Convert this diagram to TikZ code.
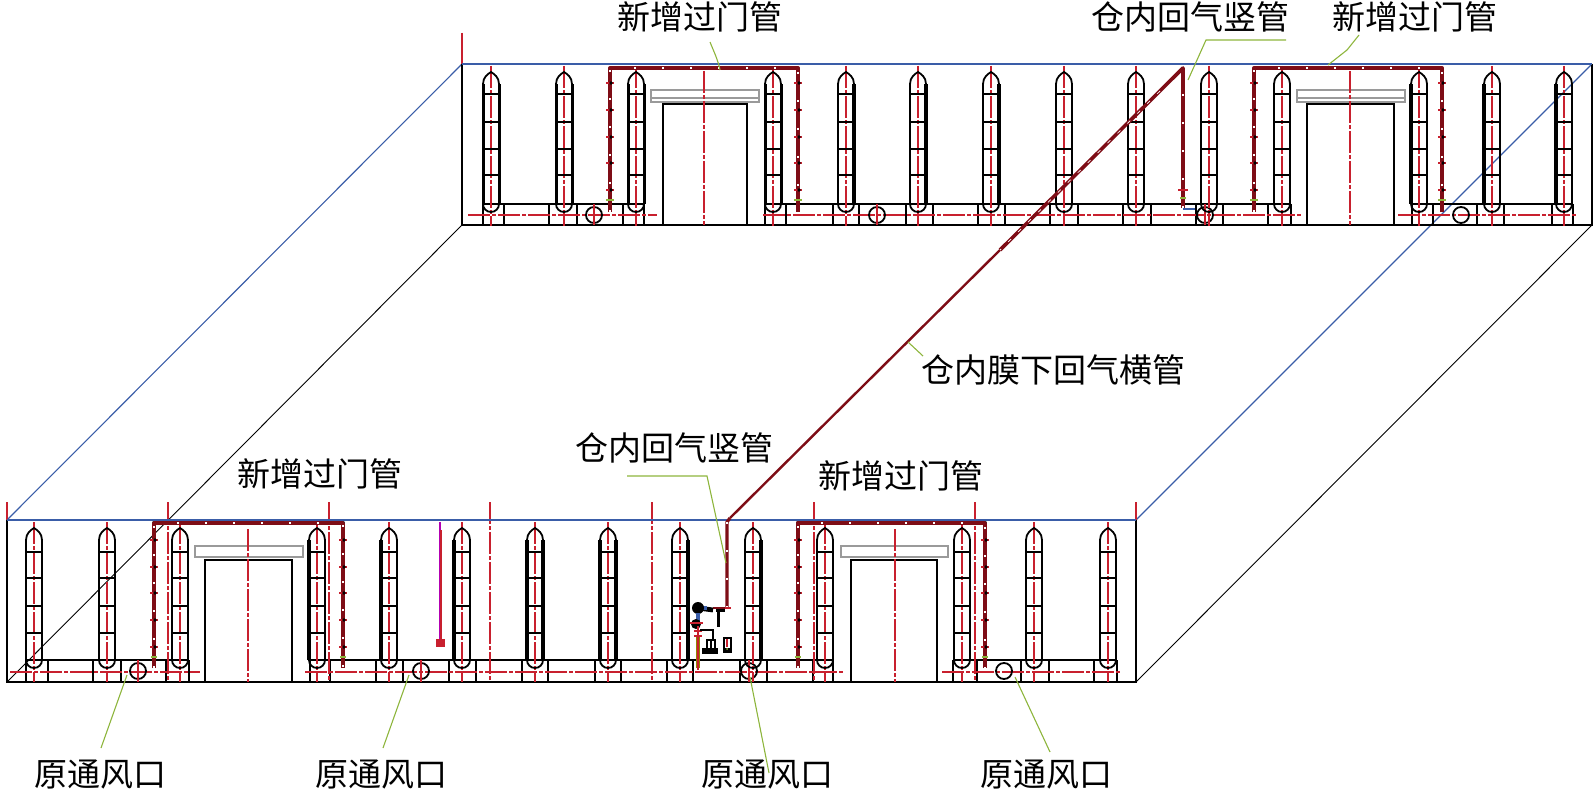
\documentclass[tikz,border=0pt]{standalone}
\usepackage{fontspec}
\newfontfamily\cjkf{Noto Sans CJK SC}
\definecolor{cl}{HTML}{C8202E}
\definecolor{pp}{HTML}{7E0D16}
\definecolor{gl}{HTML}{8DB53C}
\definecolor{bl}{HTML}{3A5DA8}
\definecolor{gy}{HTML}{9A9A9A}
\tikzset{
  wall/.style={black,line width=0.9pt},
  thin wall/.style={black,line width=0.45pt},
  sky/.style={bl,line width=0.7pt},
  axis/.style={cl,line width=0.75pt,dash pattern=on 11pt off 1pt on 2pt off 1pt},
  stub/.style={cl,line width=0.75pt},
  leader/.style={gl,line width=0.55pt},
  lintel/.style={gy,line width=1pt},
  pipeedge/.style={black!85,line width=2.4pt,line join=round},
  pipecore/.style={pp,line width=2pt,line join=round},
  pipedots/.style={white,line width=0.6pt,dash pattern=on 1pt off 13pt},
  lab/.style={font=\cjkf\fontsize{16.5}{20}\selectfont,inner sep=0pt,anchor=center,black}
}
% x, ytop, yband, ybottom of pill-axis, rung y list, left width, right width
\newcommand{\rpill}[7]{%
  \draw[axis] (#1,#2-6) -- (#1,#3+22);
  \draw[wall] (#1-8,#3) arc[start angle=180,end angle=0,radius=8];
  \draw[black,line width=#6] (#1-8,#3) -- (#1-8,#2+12);
  \draw[black,line width=#7] (#1+8,#3) -- (#1+8,#2+12);
  \draw[wall] (#1-8,#2+12) .. controls (#1-8,#2+5) and (#1-3,#2+2) .. (#1,#2)
     .. controls (#1+3,#2+2) and (#1+8,#2+5) .. (#1+8,#2+12);
  \foreach \ry in {#5} {\draw[wall] (#1-8,\ry) -- (#1+8,\ry);}
}
\newcommand{\ticks}[2]{%
  \foreach \ty in {#2} {
    \draw[cl,line width=0.7pt] (#1-4,\ty) -- (#1+4,\ty);
    \fill[black] (#1+1,\ty) circle[radius=1.8];
  }
}
\begin{document}
\begin{tikzpicture}[x=0.5pt,y=-0.5pt]
\useasboundingbox (0,0) rectangle (1595,791);
% ---- perspective edges
\draw[sky,line width=0.55pt] (7,520) -- (462,64);
\draw[sky,line width=0.55pt] (1136,520) -- (1592,64);
\draw[thin wall] (7,682) -- (462,225);
\draw[thin wall] (1136,682) -- (1592,225);
% ---- back wall
\draw[wall] (462,64) -- (462,225) -- (1592,225) -- (1592,64);
\foreach \a/\b in {483/644,765/1291,1412/1573}
  \draw[wall] (\a,204) -- (\b,204);
\foreach \a in {483,504,549,577,623,644,765,786,833,859,906,933,978,1005,1050,1078,1123,1151,1196,1223,1268,1291,1412,1433,1477,1504,1552,1573}
  \draw[wall] (\a,204) -- (\a,225);
\foreach \a/\b in {468/657,763/1302,1398/1578}
  \draw[axis] (\a,215) -- (\b,215);
\foreach \c in {594,877,1205,1461}
  {\draw[wall] (\c,215) circle[radius=8];}
\foreach \c in {594,877,1205}
  {\draw[stub] (\c,204) -- (\c,225);}
\foreach \x/\lw/\rw in {491/1.5pt/1.5pt,564/1.5pt/1.5pt,636/1.5pt/1.5pt,773/1.5pt/1.5pt,846/0.9pt/1.6pt,918/0.9pt/1.6pt,991/0.9pt/1.6pt,1064/0.9pt/0.9pt,1136/0.9pt/0.9pt,1209/0.9pt/0.9pt,1282/0.9pt/0.9pt,1419/1.6pt/0.9pt,1492/1.6pt/0.9pt,1564/1.6pt/0.9pt}
  \rpill{\x}{72}{204}{225}{94,122,149,175}{\lw}{\rw};
% back doors
\foreach \dl/\dr/\ll/\lr/\dc in {663/747/651/759/704,1307/1394/1297/1405/1350} {
  \draw[wall] (\dl,225) -- (\dl,104) -- (\dr,104) -- (\dr,225);
  \draw[lintel] (\ll,90) rectangle (\lr,102);
  \draw[lintel,line width=0.6pt] (\ll,98) -- (\lr,98);
  \draw[axis] (\dc,71) -- (\dc,225);
}
\draw[stub] (462,33) -- (462,64);
\draw[axis] (462,33) -- (462,64);
% ---- front wall
\draw[wall] (7,520) -- (7,682) -- (1136,682) -- (1136,520);
\foreach \a/\b in {26/189,310/833,953/1117}
  \draw[wall] (\a,660) -- (\b,660);
\foreach \a in {26,48,93,121,166,189,310,330,376,403,449,476,522,548,595,621,667,693,740,767,813,833,953,977,1021,1049,1094,1117}
  \draw[wall] (\a,660) -- (\a,682);
\foreach \a/\b in {10/200,305/845,942/1120}
  \draw[axis] (\a,672) -- (\b,672);
\foreach \c in {138,421,749,1004}
  {\draw[wall] (\c,671) circle[radius=8];}
\foreach \c in {138,421,749}
  {\draw[stub] (\c,660) -- (\c,682);}
\foreach \x/\lw/\rw in {34/0.9pt/0.9pt,107/0.9pt/0.9pt,180/0.9pt/0.9pt,317/1.6pt/0.9pt,389/1.6pt/0.9pt,462/1.6pt/0.9pt,535/1.6pt/1.6pt,608/1.6pt/1.6pt,680/0.9pt/1.6pt,753/0.9pt/1.6pt,825/0.9pt/0.9pt,962/0.9pt/0.9pt,1034/0.9pt/0.9pt,1108/0.9pt/0.9pt}
  \rpill{\x}{528}{660}{682}{552,578,606,633}{\lw}{\rw};
% front doors
\foreach \dl/\dr/\ll/\lr/\dc in {205/292/195/303/248,851/937/841/948/895} {
  \draw[wall] (\dl,682) -- (\dl,560) -- (\dr,560) -- (\dr,682);
  \draw[lintel] (\ll,546) rectangle (\lr,557);
  \draw[lintel,line width=1pt] (\ll,556.5) -- (\lr,556.5);
  \draw[axis] (\dc,529) -- (\dc,682);
}
% tall axes and stubs of the front wall
\foreach \x in {168,329,490,652,814,975}
  {\draw[axis] (\x,502) -- (\x,682);
   \draw[stub] (\x,502) -- (\x,520);}
\foreach \x in {7,1136}
  \draw[stub] (\x,502) -- (\x,520);
% blue roof lines on top
\draw[sky] (462,64) -- (1592,64);
\draw[sky] (7,520) -- (1136,520);
% ---- door pipes, back wall
\foreach \pa/\pb in {610/798,1254/1442} {
  \draw[pipecore] (\pa,212) -- (\pa,68) -- (\pb,68) -- (\pb,212);
  \draw[pipedots] (\pa,212) -- (\pa,68) -- (\pb,68) -- (\pb,212);
  \ticks{\pa}{83,110,137,163,190}
  \ticks{\pb}{83,110,137,163,190}
  \draw[gl,line width=1.4pt] (\pa-4,200) -- (\pa+4,200);
  \draw[gl,line width=1.4pt] (\pb-4,200) -- (\pb+4,200);
}
% ---- door pipes, front wall
\foreach \pa/\pb in {154/343,798/985} {
  \draw[pipeedge] (\pa,668) -- (\pa,523) -- (\pb,523) -- (\pb,668);
  \draw[pipecore,line width=1.7pt] (\pa,668) -- (\pa,523) -- (\pb,523) -- (\pb,668);
  \draw[pipedots] (\pa,668) -- (\pa,523) -- (\pb,523) -- (\pb,668);
  \ticks{\pa}{540,567,593,620,647}
  \ticks{\pb}{540,567,593,620,647}
  \draw[gl,line width=1.2pt] (\pa-3,657) -- (\pa+3,657);
  \draw[gl,line width=1.2pt] (\pb-3,657) -- (\pb+3,657);
}
% ---- return riser and horizontal return under the membrane
\draw[pipecore,line width=1.2pt] (1000,250) -- (730,518);
\draw[pipecore,line width=1.8pt] (1183,208) -- (1183,68) -- (1000,250);
\draw[pipecore,line width=1.6pt] (730,518) -- (727,522) -- (727,608);
\draw[white,line width=0.35pt,dash pattern=on 2pt off 5pt] (1160,91) -- (1000,250);
\draw[pipedots] (1183,208) -- (1183,68);
\draw[pipedots] (727,608) -- (727,522);
\draw[gl,line width=1.2pt] (1180,198) -- (1186,198);
\draw[bl,line width=1pt] (1183,209) -- (1195,209);
\draw[cl,line width=0.7pt] (1178,190) -- (1188,190);
% ---- purple branch
\draw[violet!60!magenta,line width=1.4pt] (440,522) -- (440,643);
\draw[cl,line width=0.8pt] (441,530) -- (441,643);
\fill[cl] (436,639) rectangle (445,647);
% ---- equipment
\draw[pp,line width=1pt] (713,608) -- (730,608);
\draw[cl,line width=0.7pt] (725,608) -- (731,608);
\draw[black,line width=2.4pt] (698,608) -- (713,610);
\draw[bl,line width=2pt] (703,608) -- (707,608);
\fill[black] (698,608) circle[radius=6];
\draw[black,line width=1.5pt] (716,610) -- (725,610);
\draw[black,line width=1.5pt] (718,610) -- (718,627);
\draw[bl,line width=1.6pt] (698,613) -- (698,621);
\fill[black] (696,624) circle[radius=5];
\draw[cl,line width=0.8pt] (690,623) -- (703,623);
\draw[olive,line width=1.6pt] (698,636) -- (698,668);
\draw[cl,line width=0.7pt] (698,626) -- (698,670);
\draw[cl,line width=1pt] (694,631) -- (702,631);
\draw[cl,line width=1pt] (694,636) -- (702,636);
\draw[black,line width=1pt] (700,630) -- (713,630) -- (713,641);
\fill[black] (702,648) rectangle (718,654);
\draw[black,line width=1.3pt,fill=white] (707,640) rectangle (715,649);
\draw[black,line width=0.7pt] (711,639) -- (711,648);
\fill[black] (723,637) rectangle (732,653);
\fill[white] (725,639) rectangle (730,648);
\draw[cl,line width=0.7pt] (727,639) -- (727,647);
\fill[gl] (727,649) circle[radius=1];
% ---- labels
\node[lab] (t1) at (700,17) {新增过门管};
\node[lab] (t2) at (1190,17) {仓内回气竖管};
\node[lab] (t3) at (1415,17) {新增过门管};
\node[lab] (m1) at (1053,370) {仓内膜下回气横管};
\node[lab] (m2) at (674,448) {仓内回气竖管};
\node[lab] (f1) at (320,474) {新增过门管};
\node[lab] (f2) at (901,476) {新增过门管};
\node[lab] (b1) at (100,775) {原通风口};
\node[lab] (b2) at (381,775) {原通风口};
\node[lab] (b3) at (767,775) {原通风口};
\node[lab] (b4) at (1046,775) {原通风口};
% ---- leaders
\coordinate (l1a) at (710,42); \coordinate (l1b) at (720,70);
\draw[leader] (l1a) .. controls (714,52) and (718,60) .. (l1b);
\coordinate (l2a) at (1286,40); \coordinate (l2b) at (1206,40); \coordinate (l2c) at (1188,80);
\draw[leader] (l2a) -- (l2b) -- (l2c);
\coordinate (l3a) at (1359,35); \coordinate (l3b) at (1347,50); \coordinate (l3c) at (1328,65);
\draw[leader] (l3a) -- (l3b) -- (l3c);
\coordinate (l4a) at (908,342); \coordinate (l4b) at (923,356);
\draw[leader] (l4a) -- (l4b);
\coordinate (l5a) at (627,476); \coordinate (l5b) at (707,476); \coordinate (l5c) at (726,563);
\draw[leader] (l5a) -- (l5b) -- (l5c);
\coordinate (l6a) at (127,675); \coordinate (l6b) at (101,748);
\draw[leader] (l6a) -- (l6b);
\coordinate (l7a) at (409,675); \coordinate (l7b) at (383,748);
\draw[leader] (l7a) -- (l7b);
\coordinate (l8a) at (750,677); \coordinate (l8b) at (769,773);
\draw[leader] (l8a) -- (l8b);
\coordinate (l9a) at (1015,677); \coordinate (l9b) at (1050,752);
\draw[leader] (l9a) -- (l9b);
\end{tikzpicture}
\end{document}
